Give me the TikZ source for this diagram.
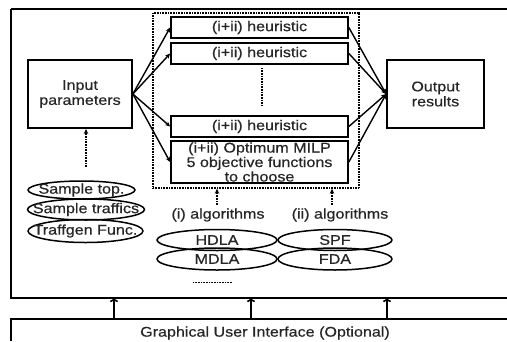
\documentclass[tikz,border=0pt]{standalone}
\usepackage{fontspec}
\setmainfont{Liberation Sans}[FakeStretch=1.15,FakeBold=0.5]
\usetikzlibrary{arrows.meta,shapes.geometric}
\begin{document}
\begin{tikzpicture}[x=1pt,y=-1pt,
  every node/.style={font=\fontsize{14}{15}\selectfont, text=black!85},
  box/.style={draw, line width=1.7pt, inner sep=0pt, align=center},
  ell/.style={draw, ellipse, line width=1.5pt, inner sep=0pt},
  dotln/.style={line width=1.4pt, dash pattern=on 0.8pt off 0.8pt},
  fan/.style={line width=1.4pt, -{Stealth[length=5pt,width=4.5pt]}},
  upar/.style={line width=1.6pt, -{To[length=4pt,width=8pt]}},
  dotar/.style={dotln, -{Stealth[length=5pt,width=4.5pt,sep=0pt]}}]
\useasboundingbox (0,0) rectangle (507,341);
\fill[white] (0,0) rectangle (507,341);

% outer frame
\draw[line width=2.2pt] (11,9) -- (507,9);
\draw[line width=1.8pt] (11,9) -- (11,298) -- (507,298);

% GUI frame
\draw[line width=1.5pt] (507,319) -- (11,319) -- (11,341);
\node (gui) at (265,333) {Graphical User Interface (Optional)};
\foreach \x/\n in {114/1,251/2,387/3}{
  \coordinate (g\n) at (\x,319);
  \coordinate (t\n) at (\x,298);
  \draw[upar] (g\n) -- (t\n);
}

% dotted container
\node[draw, dotln, minimum width=206pt, minimum height=175pt, inner sep=0pt] (dbox) at (256,100.5) {};

% main boxes
\node[box, minimum width=104pt, minimum height=68pt] (in) at (80,94) {Input\\parameters};
\node[box, minimum width=97pt, minimum height=68pt] (out) at (435.5,94) {Output\\results};

\node[box, minimum width=177pt, minimum height=21pt] (h1) at (259.5,27.5) {(i+ii) heuristic};
\node[box, minimum width=177pt, minimum height=21pt] (h2) at (259.5,53.5) {(i+ii) heuristic};
\node[box, minimum width=177pt, minimum height=21pt] (h3) at (259.5,126.5) {(i+ii) heuristic};
\node[box, minimum width=177pt, minimum height=42pt, font=\fontsize{14}{14.5}\selectfont] (milp) at (259.5,162) {(i+ii) Optimum MILP\\5 objective functions\\to choose};

\foreach \t in {h1,h2,h3,milp}{
  \draw[fan] (in.east) -- (\t.west);
  \draw[fan] (\t.east) -- (out.west);
}

% vertical dots between heuristics
\coordinate (v1) at (262,68);
\coordinate (v2) at (262,105);
\draw[dotln] (v1) -- (v2);

% input ellipses
\node[ell, minimum width=107pt, minimum height=18pt] (e1) at (81.5,190) {};
\node[ell, minimum width=117pt, minimum height=21pt] (e2) at (86,209.5) {};
\node[ell, minimum width=115pt, minimum height=23pt] (e3) at (85.5,231) {};
\node at (e1.center) {Sample top.};
\node at (e2.center) {Sample traffics};
\node at (e3.center) {Traffgen Func.};
\coordinate (ia) at (86,167);
\coordinate (ib) at (86,129);
\draw[dotar] (ia) -- (ib);

% algorithms
\node (la) at (218,215) {(i) algorithms};
\node (lb) at (340,215) {(ii) algorithms};
\coordinate (a1) at (217,205);
\coordinate (a2) at (332,205);
\draw[dotar] (a1) -- (a1 |- dbox.south);
\draw[dotar] (a2) -- (a2 |- dbox.south);

\node[ell, minimum width=120pt, minimum height=21pt] (hdla) at (217,240) {};
\node[ell, minimum width=120pt, minimum height=22pt] (mdla) at (217,259) {};
\node[ell, minimum width=114pt, minimum height=21pt] (spf) at (335,240) {};
\node[ell, minimum width=114pt, minimum height=22pt] (fda) at (335,259) {};
\node at (hdla.center) {HDLA};
\node at (mdla.center) {MDLA};
\node at (spf.center) {SPF};
\node at (fda.center) {FDA};

\coordinate (d1) at (193,282);
\coordinate (d2) at (232,282);
\draw[line width=0.9pt, dash pattern=on 0.7pt off 0.9pt] (d1) -- (d2);
\end{tikzpicture}
\end{document}
